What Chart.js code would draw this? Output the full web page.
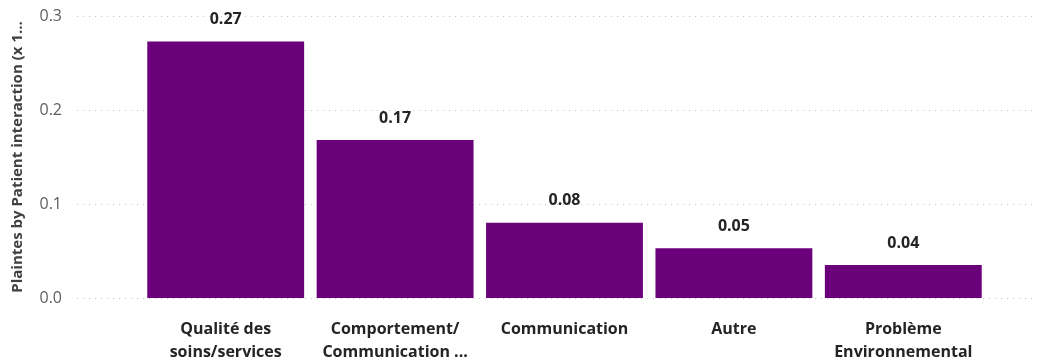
<!DOCTYPE html>
<html>
<head>
<meta charset="utf-8">
<script src="https://cdn.jsdelivr.net/npm/chart.js@4"></script>
<style>
  html, body { margin: 0; padding: 0; background: #fff; }
  #wrap { position: relative; width: 1038px; height: 364px; }
</style>
</head>
<body>
<div id="wrap"><canvas id="chart"></canvas></div>
<script>
// categories (multi-line labels) and values
const categories = [
  ['Qualité des', 'soins/services'],
  ['Comportement/', 'Communication ...'],
  'Communication',
  'Autre',
  ['Problème', 'Environnemental']
];
const plaintes = [0.273, 0.168, 0.080, 0.053, 0.035];
const yTicks = [0, 0.1, 0.2, 0.3];
const yTitle = 'Plaintes by Patient interaction (x 1…';

const FONT = '"Open Sans", "Noto Sans", sans-serif';

// dotted gridlines + y tick labels, set further left than the bars (Power BI style)
const gridPlugin = {
  id: 'dottedGrid',
  beforeDatasetsDraw(chart) {
    const ctx = chart.ctx;
    const y = chart.scales.y;
    ctx.save();
    ctx.strokeStyle = '#c8c6c4';
    ctx.lineWidth = 1;
    ctx.setLineDash([1, 5]);
    ctx.font = '16px ' + FONT;
    ctx.fillStyle = '#605e5c';
    ctx.textAlign = 'right';
    ctx.textBaseline = 'middle';
    yTicks.forEach(t => {
      const py = Math.round(y.getPixelForValue(t)) + 0.5;
      ctx.beginPath();
      ctx.moveTo(77, py);
      ctx.lineTo(1032, py);
      ctx.stroke();
      ctx.fillText(t.toFixed(1), 62, py);
    });
    ctx.restore();
  }
};

// value labels above the bars
const valuePlugin = {
  id: 'valueLabels',
  afterDatasetsDraw(chart) {
    const ctx = chart.ctx;
    const meta = chart.getDatasetMeta(0);
    ctx.save();
    ctx.font = 'bold 16px ' + FONT;
    ctx.fillStyle = '#252423';
    ctx.textAlign = 'center';
    ctx.textBaseline = 'middle';
    meta.data.forEach((bar, i) => {
      ctx.fillText(plaintes[i].toFixed(2), bar.x, bar.y - 22);
    });
    ctx.restore();
  }
};

new Chart(document.getElementById('chart'), {
  type: 'bar',
  data: {
    labels: categories,
    datasets: [{
      data: plaintes,
      backgroundColor: '#6b007b',
      borderWidth: 0,
      barPercentage: 0.926,
      categoryPercentage: 1
    }]
  },
  options: {
    responsive: true,
    maintainAspectRatio: false,
    animation: false,
    layout: { padding: { left: 4, right: 50, top: 16, bottom: 0 } },
    plugins: {
      legend: { display: false },
      tooltip: { enabled: false }
    },
    scales: {
      x: {
        afterFit(scale) {
          scale.height = 66;
        },
        grid: { display: false, drawTicks: false },
        border: { display: false },
        ticks: {
          color: '#252423',
          font: { family: FONT, size: 16, weight: 'bold', lineHeight: 1.44 },
          padding: 20,
          maxRotation: 0,
          autoSkip: false
        }
      },
      y: {
        min: 0,
        max: 0.3,
        afterFit(scale) {
          scale.width = 137;
        },
        grid: { display: false, drawTicks: false },
        border: { display: false },
        ticks: { display: false },
        title: {
          display: true,
          text: yTitle,
          color: '#404040',
          font: { family: FONT, size: 15, weight: 'bold' },
          padding: { top: 5, bottom: 0 }
        }
      }
    }
  },
  plugins: [gridPlugin, valuePlugin]
});
</script>
</body>
</html>
